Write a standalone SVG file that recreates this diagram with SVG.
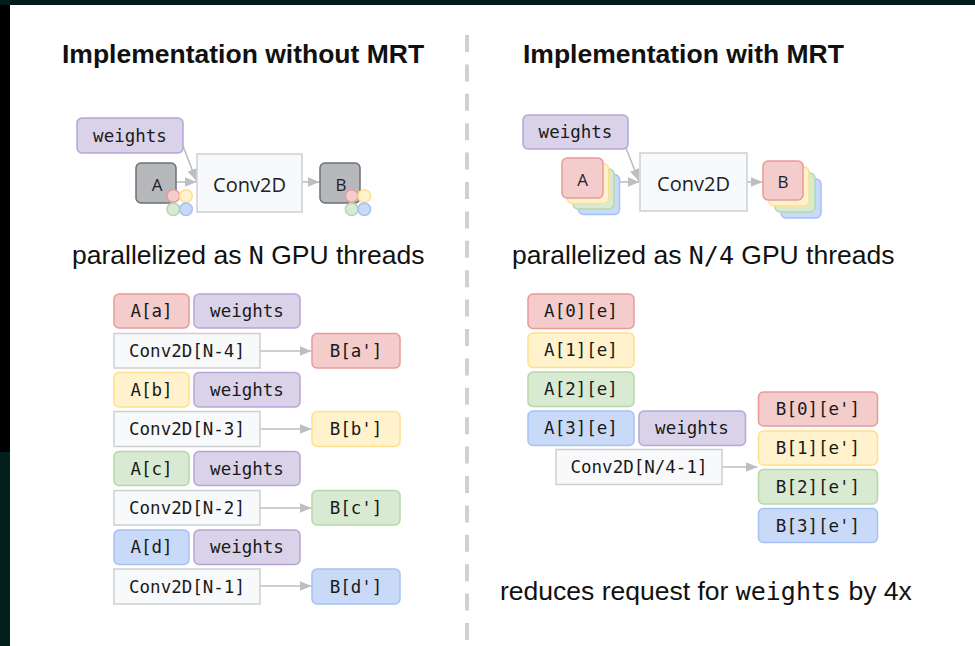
<svg xmlns="http://www.w3.org/2000/svg" width="975" height="646" viewBox="0 0 975 646">
  <defs>
    <marker id="arrow" viewBox="0 0 12 10" refX="12" refY="5" markerWidth="12" markerHeight="10" markerUnits="userSpaceOnUse" orient="auto">
      <path d="M0,0 L12,5 L0,10 Z" fill="#bcbec1"/>
    </marker>
    <style>
      .title { font-family: "Liberation Sans", Arial, sans-serif; font-weight: bold; font-size: 26.5px; fill: #111; }
      .caption { font-family: "Liberation Sans", Arial, sans-serif; font-size: 26.5px; fill: #111; }
      .code { font-family: "DejaVu Sans Mono", "Liberation Mono", monospace; font-size: 25px; }
      .mono { font-family: "DejaVu Sans Mono", "Liberation Mono", monospace; font-size: 17.5px; fill: #1a1a1a; text-anchor: middle; dominant-baseline: central; }
      .sans { font-family: "Open Sans", "Noto Sans", sans-serif; fill: #202124; text-anchor: middle; dominant-baseline: central; }
      .edge { stroke: #bcbec1; stroke-width: 1.6; fill: none; marker-end: url(#arrow); }
      .op { fill: #f8f9fa; stroke: #cdcfd2; stroke-width: 1.5; }
      .gray { fill: #b6b8bb; stroke: #6d7074; stroke-width: 1.5; }
      .red { fill: #f4cccc; stroke: #ea9999; stroke-width: 1.5; }
      .yellow { fill: #fff2cc; stroke: #ffe08a; stroke-width: 1.5; }
      .green { fill: #d9ead3; stroke: #b6d7a8; stroke-width: 1.5; }
      .blue { fill: #c9daf8; stroke: #a4c2f4; stroke-width: 1.5; }
      .purple { fill: #d9d2e9; stroke: #b4a7d6; stroke-width: 1.5; }
    </style>
  </defs>

  <!-- page background and frame edges -->
  <rect x="0" y="0" width="975" height="646" fill="#ffffff"/>
  <rect x="0" y="0" width="975" height="5" fill="#031b1d"/>
  <rect x="0" y="5" width="10" height="447" fill="#000000"/>
  <rect x="0" y="452" width="10" height="194" fill="#03201f"/>

  <!-- divider -->
  <line x1="467" y1="35" x2="467" y2="640" stroke="#cdd0d4" stroke-width="4" stroke-dasharray="17 12.4"/>

  <!-- headings and captions -->
  <text class="title" x="62" y="63">Implementation without MRT</text>
  <text class="title" x="523" y="63">Implementation with MRT</text>
  <text class="caption" x="72" y="264">parallelized as <tspan class="code">N</tspan> GPU threads</text>
  <text class="caption" x="512" y="264">parallelized as <tspan class="code">N/4</tspan> GPU threads</text>
  <text class="caption" x="500" y="600">reduces request for <tspan class="code">weights</tspan> by 4x</text>

  <!-- connectors -->
  <g id="connectors">
    <line class="edge" x1="183" y1="146" x2="196.5" y2="181"/>
    <line class="edge" x1="176" y1="182" x2="196.5" y2="182"/>
    <line class="edge" x1="302" y1="182" x2="319.5" y2="182"/>

    <line class="edge" x1="626" y1="148" x2="639" y2="181"/>
    <line class="edge" x1="620" y1="182" x2="639.5" y2="182"/>
    <line class="edge" x1="747" y1="182" x2="762.5" y2="182"/>

    <line class="edge" x1="260" y1="351" x2="311.5" y2="351"/>
    <line class="edge" x1="260" y1="429" x2="311.5" y2="429"/>
    <line class="edge" x1="260" y1="508" x2="311.5" y2="508"/>
    <line class="edge" x1="260" y1="586" x2="311.5" y2="586"/>

    <line class="edge" x1="722" y1="467" x2="757.5" y2="467"/>
  </g>

  <!-- single-target pipeline -->
  <g id="weights-single">
    <rect class="purple" x="77" y="118" width="106" height="35" rx="5"/>
    <text class="mono" x="130" y="136">weights</text>
  </g>
  <g id="A-single">
    <rect class="gray" x="136" y="163" width="40" height="40" rx="5"/>
    <text class="sans" x="157" y="184" font-size="17">A</text>
    <circle class="red" cx="173.3" cy="196" r="6.3"/>
    <circle class="yellow" cx="186" cy="196" r="6.3"/>
    <circle class="green" cx="173.3" cy="209.3" r="6.3"/>
    <circle class="blue" cx="186" cy="209.3" r="6.3"/>
  </g>
  <g id="conv-single">
    <rect class="op" x="197" y="154" width="105" height="58"/>
    <text class="sans" x="249.5" y="184" font-size="20">Conv2D</text>
  </g>
  <g id="B-single">
    <rect class="gray" x="320" y="163" width="40" height="40" rx="5"/>
    <text class="sans" x="341" y="184" font-size="17">B</text>
    <circle class="red" cx="351.7" cy="196" r="6.3"/>
    <circle class="yellow" cx="364.3" cy="196" r="6.3"/>
    <circle class="green" cx="351.7" cy="209.3" r="6.3"/>
    <circle class="blue" cx="364.3" cy="209.3" r="6.3"/>
  </g>

  <!-- multi-target pipeline -->
  <g id="weights-mrt">
    <rect class="purple" x="523" y="115" width="105" height="34" rx="5"/>
    <text class="mono" x="575.5" y="132">weights</text>
  </g>
  <g id="A-mrt">
    <rect class="blue" x="578.5" y="174.5" width="41" height="40" rx="5"/>
    <rect class="green" x="573" y="169" width="41" height="40" rx="5"/>
    <rect class="yellow" x="567.5" y="163.5" width="41" height="40" rx="5"/>
    <rect class="red" x="562" y="158" width="41" height="40" rx="5"/>
    <text class="sans" x="582.5" y="179" font-size="17">A</text>
  </g>
  <g id="conv-mrt">
    <rect class="op" x="640" y="153" width="107" height="58"/>
    <text class="sans" x="693.5" y="183" font-size="20">Conv2D</text>
  </g>
  <g id="B-mrt">
    <rect class="blue" x="781" y="179" width="40" height="39" rx="5"/>
    <rect class="green" x="775" y="173" width="40" height="39" rx="5"/>
    <rect class="yellow" x="769" y="167" width="40" height="39" rx="5"/>
    <rect class="red" x="763" y="161" width="40" height="39" rx="5"/>
    <text class="sans" x="783" y="181" font-size="17">B</text>
  </g>

  <!-- per-thread breakdown, single target -->
  <g id="thread-a">
    <rect class="red" x="114" y="294" width="75" height="34" rx="5"/>
    <text class="mono" x="151.5" y="311">A[a]</text>
    <rect class="purple" x="194" y="294" width="106" height="34" rx="5"/>
    <text class="mono" x="247" y="311">weights</text>
    <rect class="op" x="114" y="333.5" width="146" height="34.5"/>
    <text class="mono" x="187" y="351">Conv2D[N-4]</text>
    <rect class="red" x="312" y="333.5" width="88" height="34.5" rx="5"/>
    <text class="mono" x="356" y="351">B[a']</text>
  </g>
  <g id="thread-b">
    <rect class="yellow" x="114" y="372.5" width="75" height="34.5" rx="5"/>
    <text class="mono" x="151.5" y="390">A[b]</text>
    <rect class="purple" x="194" y="372.5" width="106" height="34.5" rx="5"/>
    <text class="mono" x="247" y="390">weights</text>
    <rect class="op" x="114" y="411.5" width="146" height="35"/>
    <text class="mono" x="187" y="429">Conv2D[N-3]</text>
    <rect class="yellow" x="312" y="411.5" width="88" height="35" rx="5"/>
    <text class="mono" x="356" y="429">B[b']</text>
  </g>
  <g id="thread-c">
    <rect class="green" x="114" y="451.5" width="75" height="34" rx="5"/>
    <text class="mono" x="151.5" y="468.5">A[c]</text>
    <rect class="purple" x="194" y="451.5" width="106" height="34" rx="5"/>
    <text class="mono" x="247" y="468.5">weights</text>
    <rect class="op" x="114" y="490.5" width="146" height="34.5"/>
    <text class="mono" x="187" y="508">Conv2D[N-2]</text>
    <rect class="green" x="312" y="490.5" width="88" height="34.5" rx="5"/>
    <text class="mono" x="356" y="508">B[c']</text>
  </g>
  <g id="thread-d">
    <rect class="blue" x="114" y="530" width="75" height="34.5" rx="5"/>
    <text class="mono" x="151.5" y="547">A[d]</text>
    <rect class="purple" x="194" y="530" width="106" height="34.5" rx="5"/>
    <text class="mono" x="247" y="547">weights</text>
    <rect class="op" x="114" y="569" width="146" height="35"/>
    <text class="mono" x="187" y="586.5">Conv2D[N-1]</text>
    <rect class="blue" x="312" y="569" width="88" height="35" rx="5"/>
    <text class="mono" x="356" y="586.5">B[d']</text>
  </g>

  <!-- per-thread breakdown, multiple targets -->
  <g id="thread-mrt-inputs">
    <rect class="red" x="528" y="294" width="106" height="34.5" rx="5"/>
    <text class="mono" x="581" y="311">A[0][e]</text>
    <rect class="yellow" x="528" y="333" width="106" height="34.5" rx="5"/>
    <text class="mono" x="581" y="350">A[1][e]</text>
    <rect class="green" x="528" y="372" width="106" height="34.5" rx="5"/>
    <text class="mono" x="581" y="389">A[2][e]</text>
    <rect class="blue" x="528" y="411" width="106" height="34.5" rx="5"/>
    <text class="mono" x="581" y="428">A[3][e]</text>
    <rect class="purple" x="639" y="411" width="106.5" height="34.5" rx="5"/>
    <text class="mono" x="692" y="428">weights</text>
  </g>
  <g id="thread-mrt-conv">
    <rect class="op" x="556" y="449.5" width="166" height="35"/>
    <text class="mono" x="639" y="467">Conv2D[N/4-1]</text>
  </g>
  <g id="thread-mrt-outputs">
    <rect class="red" x="758.5" y="392" width="119" height="34" rx="5"/>
    <text class="mono" x="818" y="409">B[0][e']</text>
    <rect class="yellow" x="758.5" y="431" width="119" height="34" rx="5"/>
    <text class="mono" x="818" y="448">B[1][e']</text>
    <rect class="green" x="758.5" y="469.5" width="119" height="34.5" rx="5"/>
    <text class="mono" x="818" y="486.5">B[2][e']</text>
    <rect class="blue" x="758.5" y="508.5" width="119" height="34" rx="5"/>
    <text class="mono" x="818" y="525.5">B[3][e']</text>
  </g>
</svg>
